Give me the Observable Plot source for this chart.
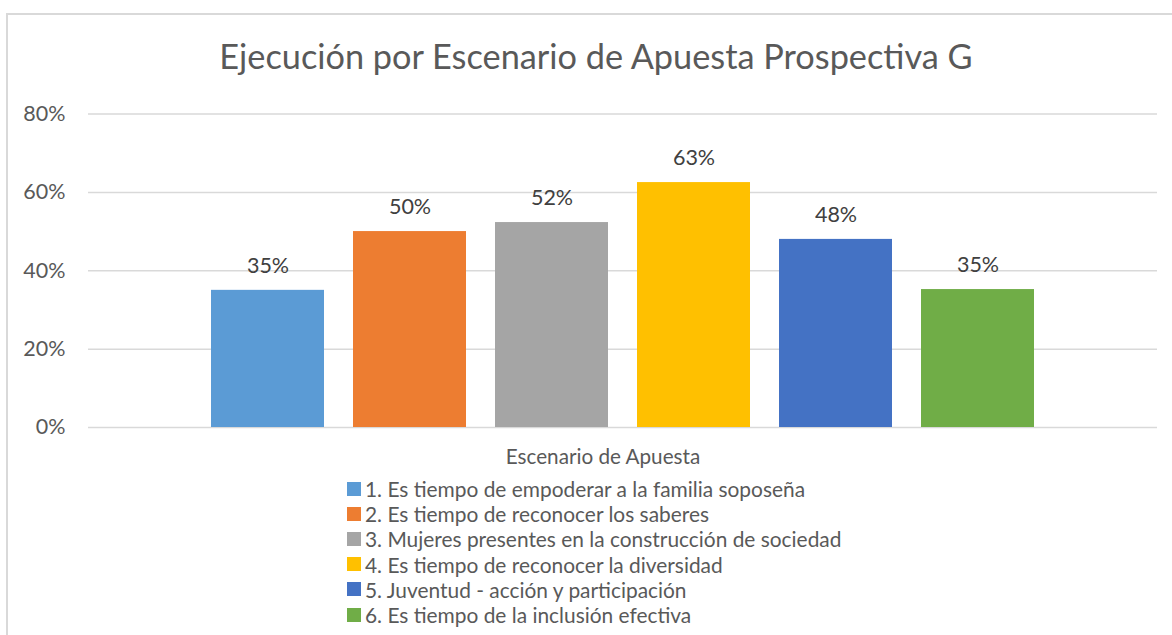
<!DOCTYPE html>
<html>
<head>
<meta charset="utf-8">
<script src="https://cdn.jsdelivr.net/npm/d3@7"></script>
<script src="https://cdn.jsdelivr.net/npm/@observablehq/plot@0.6"></script>
<style>
  html, body { margin: 0; padding: 0; background: #fff; }
  body { width: 1172px; height: 635px; overflow: hidden; position: relative; font-family: Lato, "Open Sans", sans-serif; }
  #frame { position: absolute; left: 6px; top: 13px; width: 1200px; height: 700px; border: 2px solid #d9d9d9; box-sizing: border-box; }
  #title { position: absolute; left: 0; width: 1192px; top: 36px; text-align: center; font-size: 34.3px; line-height: 40px; color: #595959; white-space: nowrap; }
  #chart { position: absolute; left: 0; top: 95px; }
  #xtitle { position: absolute; left: 0; width: 1206px; top: 444px; text-align: center; font-size: 20.7px; color: #595959; }
  #legend { position: absolute; left: 347px; top: 476px; font-size: 20.9px; color: #595959; }
  .item { height: 25.2px; line-height: 25px; white-space: nowrap; display: flex; align-items: center; }
  .sw { width: 14px; height: 14px; margin-right: 4px; flex: none; }
</style>
</head>
<body>
<div id="frame"></div>
<div id="title">Ejecución por Escenario de Apuesta Prospectiva G</div>
<div id="chart"></div>
<div id="xtitle">Escenario de Apuesta</div>
<div id="legend"></div>
<script>
const categories = [
  "1. Es tiempo de empoderar a la familia soposeña",
  "2. Es tiempo de reconocer los saberes",
  "3. Mujeres presentes en la construcción de sociedad",
  "4. Es tiempo de reconocer la diversidad",
  "5. Juventud - acción y participación",
  "6. Es tiempo de la inclusión efectiva"
];
const values = [0.35, 0.50, 0.523, 0.625, 0.48, 0.352];
const colors = ["#5B9BD5", "#ED7D31", "#A5A5A5", "#FFC000", "#4472C4", "#70AD47"];
const yTicks = [0, 0.2, 0.4, 0.6, 0.8];

const data = categories.map((c, i) => ({name: c, value: values[i]}));
const pct = d3.format(".0%");

const plot = Plot.plot({
  width: 1172,
  height: 345,
  marginLeft: 88,
  marginRight: 15,
  marginTop: 18.5,
  marginBottom: 13,
  style: {fontFamily: "Lato, 'Open Sans', sans-serif", background: "transparent"},
  x: {domain: categories, axis: null, paddingInner: 0.204, paddingOuter: 0.855},
  y: {domain: [0, 0.8], ticks: yTicks, tickFormat: pct, tickSize: 0, tickPadding: 23, label: null},
  color: {domain: categories, range: colors},
  marks: [
    Plot.gridY(yTicks, {stroke: "#d9d9d9", strokeOpacity: 1, strokeWidth: 1.5}),
    Plot.axisY(yTicks, {tickFormat: pct, tickSize: 0, tickPadding: 23, fontSize: 21.5, fill: "#595959", label: null}),
    Plot.barY(data, {x: "name", y: "value", fill: "name"}),
    Plot.text(data, {x: "name", y: "value", text: d => pct(d.value), dy: -24, fontSize: 21.5, fill: "#404040"})
  ]
});
document.getElementById("chart").appendChild(plot);

const legend = document.getElementById("legend");
categories.forEach((c, i) => {
  const row = document.createElement("div");
  row.className = "item";
  const sw = document.createElement("span");
  sw.className = "sw";
  sw.style.background = colors[i];
  const t = document.createElement("span");
  t.textContent = c;
  row.appendChild(sw);
  row.appendChild(t);
  legend.appendChild(row);
});
</script>
</body>
</html>
